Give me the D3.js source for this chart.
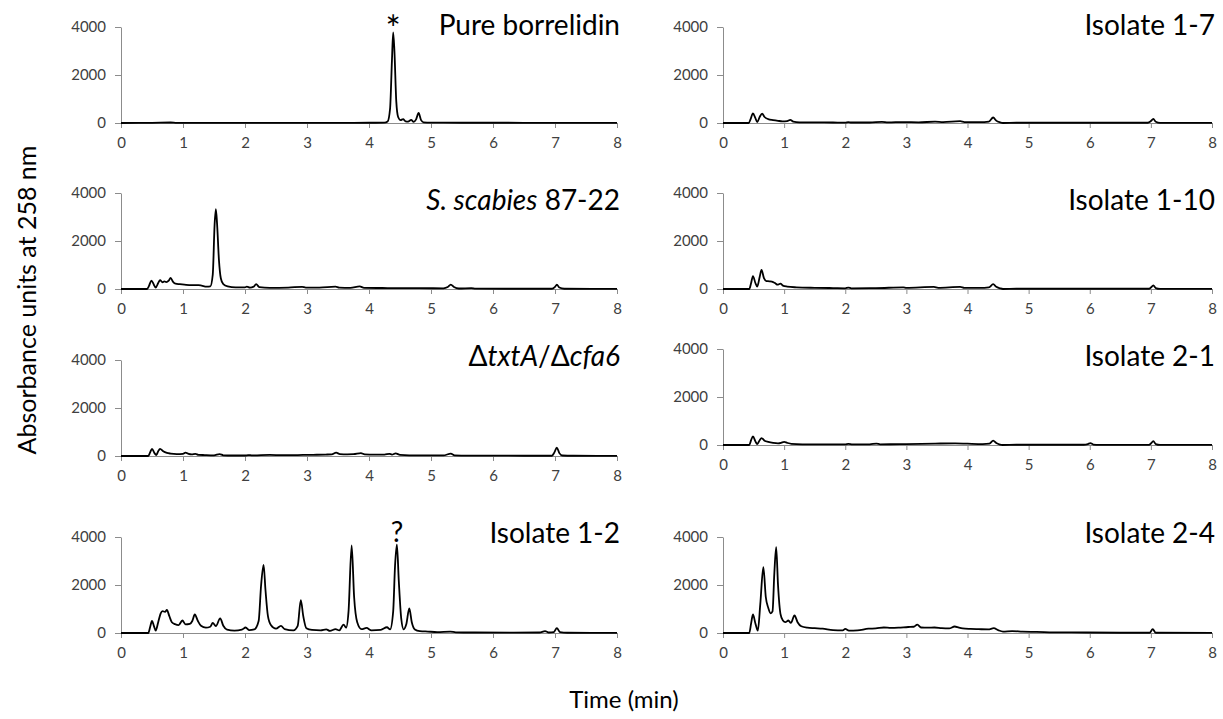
<!DOCTYPE html>
<html>
<head>
<meta charset="utf-8">
<script src="https://cdn.jsdelivr.net/npm/d3@7"></script>
<style>
  body { margin: 0; background: #fff; }
  text { font-family: Lato, "Open Sans", sans-serif; }
</style>
</head>
<body>
<div id="chart"></div>
<script>
// tick values
const timeTicks = [0, 1, 2, 3, 4, 5, 6, 7, 8];
const absTicks = [0, 2000, 4000];

// chromatograms, [time (min), absorbance]
const pureBorrelidin = [[0,0],[0.5,5],[0.8,20],[0.9,5],[1.5,5],[2,5],[3,5],[3.5,8],[4,10],[4.25,15],[4.3,60],[4.34,600],[4.37,2600],[4.39,3780],[4.41,3000],[4.44,900],[4.47,250],[4.51,120],[4.55,160],[4.59,70],[4.63,60],[4.68,130],[4.72,50],[4.76,150],[4.8,420],[4.84,120],[4.88,30],[5,15],[5.5,10],[6,10],[7,8],[8,5]];

const sScabies = [[0,0],[0.42,0],[0.45,120],[0.49,350],[0.53,180],[0.56,60],[0.6,250],[0.63,370],[0.67,280],[0.7,320],[0.73,290],[0.77,350],[0.8,460],[0.84,300],[0.88,220],[0.95,200],[1.05,170],[1.15,160],[1.25,160],[1.3,140],[1.38,100],[1.44,110],[1.48,600],[1.51,2700],[1.53,3330],[1.55,2700],[1.58,1200],[1.61,450],[1.65,200],[1.72,110],[1.85,70],[2.0,70],[2.03,100],[2.08,60],[2.14,100],[2.18,200],[2.23,80],[2.4,50],[2.7,60],[2.92,90],[2.98,60],[3.2,60],[3.46,100],[3.52,60],[3.7,50],[3.85,110],[3.92,50],[4.3,40],[4.8,35],[5.2,30],[5.27,80],[5.32,180],[5.37,80],[5.45,20],[5.65,40],[5.72,15],[6.2,10],[6.95,10],[7.0,90],[7.03,180],[7.07,60],[7.15,10],[8,5]];

const txtAcfa6 = [[0,0],[0.44,0],[0.47,150],[0.5,300],[0.54,120],[0.57,40],[0.6,200],[0.63,300],[0.68,200],[0.74,130],[0.8,100],[0.9,80],[1.0,90],[1.04,140],[1.09,90],[1.14,70],[1.2,90],[1.25,50],[1.35,40],[1.5,30],[1.59,80],[1.65,30],[1.8,20],[2.0,20],[2.05,40],[2.12,25],[2.4,45],[2.6,35],[2.85,40],[3.1,50],[3.3,60],[3.4,70],[3.47,140],[3.53,80],[3.65,70],[3.75,75],[3.87,120],[3.93,70],[4.1,55],[4.25,60],[4.33,90],[4.37,60],[4.43,110],[4.5,45],[4.65,30],[4.9,30],[5.2,25],[5.32,100],[5.38,30],[5.6,15],[6,15],[6.5,10],[6.95,10],[6.99,150],[7.03,350],[7.07,120],[7.12,20],[7.3,10],[8,5]];

const isolate12 = [[0,0],[0.44,0],[0.47,250],[0.5,500],[0.53,300],[0.56,100],[0.6,450],[0.64,820],[0.67,910],[0.71,880],[0.74,960],[0.78,700],[0.82,450],[0.87,370],[0.93,330],[0.99,520],[1.04,360],[1.11,380],[1.15,500],[1.19,770],[1.24,500],[1.29,300],[1.37,220],[1.44,260],[1.48,420],[1.53,290],[1.6,610],[1.65,300],[1.71,140],[1.83,100],[1.95,140],[2.01,230],[2.07,120],[2.15,150],[2.22,500],[2.26,2000],[2.3,2840],[2.33,1800],[2.37,700],[2.42,320],[2.5,180],[2.58,300],[2.64,160],[2.78,110],[2.85,300],[2.9,1370],[2.94,700],[2.99,200],[3.08,130],[3.22,110],[3.31,150],[3.37,90],[3.46,160],[3.52,110],[3.59,350],[3.63,220],[3.67,900],[3.72,3650],[3.76,1500],[3.81,450],[3.88,160],[3.96,210],[4.04,110],[4.19,130],[4.29,240],[4.34,150],[4.39,900],[4.42,2800],[4.45,3680],[4.48,2200],[4.52,600],[4.56,150],[4.6,350],[4.65,1020],[4.69,450],[4.74,150],[4.82,80],[4.95,60],[5.1,40],[5.31,60],[5.4,30],[5.7,20],[6.3,15],[6.75,20],[6.84,80],[6.9,20],[6.98,40],[7.03,200],[7.08,40],[7.2,10],[8,5]];

const isolate17 = [[0,0],[0.42,0],[0.45,150],[0.49,400],[0.53,200],[0.56,40],[0.6,250],[0.64,390],[0.68,250],[0.74,160],[0.82,120],[0.9,90],[0.97,70],[1.05,80],[1.1,130],[1.15,60],[1.25,30],[1.5,25],[1.8,20],[2.0,15],[2.05,40],[2.1,20],[2.4,20],[2.6,45],[2.7,25],[2.95,40],[3.2,30],[3.47,55],[3.6,40],[3.88,75],[3.95,40],[4.2,35],[4.35,60],[4.42,230],[4.47,100],[4.53,30],[4.58,0],[4.8,10],[5.5,10],[6,10],[6.95,10],[7.0,80],[7.04,170],[7.08,50],[7.15,5],[8,5]];

const isolate110 = [[0,0],[0.43,0],[0.46,250],[0.49,540],[0.53,250],[0.56,100],[0.6,500],[0.63,800],[0.67,450],[0.71,330],[0.76,320],[0.82,290],[0.86,230],[0.89,180],[0.94,220],[0.98,140],[1.05,100],[1.2,70],[1.5,50],[1.8,40],[2.0,30],[2.05,60],[2.1,30],[2.5,35],[2.95,70],[3.0,45],[3.45,85],[3.52,50],[3.88,90],[3.95,50],[4.2,45],[4.35,70],[4.42,200],[4.47,90],[4.53,30],[4.58,0],[4.8,10],[5.5,10],[6.5,10],[6.97,10],[7.0,60],[7.04,150],[7.08,40],[7.15,5],[8,5]];

const isolate21 = [[0,0],[0.43,0],[0.46,200],[0.49,360],[0.53,150],[0.56,40],[0.6,200],[0.63,290],[0.68,180],[0.74,130],[0.82,90],[0.9,70],[0.95,90],[1.0,130],[1.05,90],[1.12,50],[1.3,30],[1.6,25],[2.0,25],[2.05,50],[2.12,25],[2.4,30],[2.51,60],[2.57,30],[3.0,40],[3.47,60],[3.8,70],[4.0,55],[4.25,40],[4.36,60],[4.42,180],[4.47,80],[4.53,20],[4.57,0],[4.8,10],[5.5,10],[5.9,10],[5.97,40],[6.01,80],[6.06,20],[6.15,5],[6.97,5],[7.0,60],[7.04,160],[7.08,40],[7.15,5],[8,5]];

const isolate24 = [[0,0],[0.43,0],[0.46,400],[0.49,770],[0.53,400],[0.57,100],[0.61,1200],[0.66,2740],[0.7,1500],[0.74,1050],[0.78,820],[0.81,900],[0.84,2500],[0.87,3580],[0.9,2000],[0.94,800],[0.98,520],[1.02,450],[1.07,520],[1.11,420],[1.17,730],[1.22,450],[1.28,280],[1.38,220],[1.5,200],[1.63,180],[1.8,120],[1.96,110],[2.0,170],[2.06,100],[2.2,110],[2.38,180],[2.5,190],[2.63,230],[2.75,210],[2.87,220],[3.03,250],[3.12,260],[3.18,350],[3.24,230],[3.35,220],[3.46,230],[3.58,200],[3.7,190],[3.79,270],[3.86,220],[3.92,190],[4.05,170],[4.18,160],[4.34,150],[4.43,200],[4.5,120],[4.58,60],[4.73,80],[4.9,60],[5.04,50],[5.34,30],[5.7,25],[5.95,20],[6.5,10],[6.98,10],[7.03,160],[7.08,10],[8,5]];

// panel titles: [text, italic?]
const titleBorrelidin = [["Pure borrelidin", false]];
const titleScabies = [["S. scabies", true], [" 87-22", false]];
const titleMutant = [["\u0394", false], ["txtA", true], ["/\u0394", false], ["cfa6", true]];
const titleIso12 = [["Isolate 1-2", false]];
const titleIso17 = [["Isolate 1-7", false]];
const titleIso110 = [["Isolate 1-10", false]];
const titleIso21 = [["Isolate 2-1", false]];
const titleIso24 = [["Isolate 2-4", false]];

// peak marks: [time, label]
const borrelidinMark = [[4.39, "*"]];
const unknownMark = [[4.45, "?"]];

var width = 1223, height = 719;

var svg = d3.select("#chart").append("svg")
    .attr("width", width)
    .attr("height", height);

// left / right column x ranges
var cols = [[121, 617], [723, 1212]];

// each panel: column, y of 4000, y of 0, title baseline
var panels = [
    {data: pureBorrelidin, title: titleBorrelidin, col: 0, top: 27, bottom: 123, ty: 35, marks: borrelidinMark},
    {data: sScabies, title: titleScabies, col: 0, top: 193, bottom: 289, ty: 210},
    {data: txtAcfa6, title: titleMutant, col: 0, top: 360, bottom: 456, ty: 366},
    {data: isolate12, title: titleIso12, col: 0, top: 537, bottom: 633, ty: 543, marks: unknownMark},
    {data: isolate17, title: titleIso17, col: 1, top: 27, bottom: 123, ty: 35},
    {data: isolate110, title: titleIso110, col: 1, top: 193, bottom: 289, ty: 210},
    {data: isolate21, title: titleIso21, col: 1, top: 349, bottom: 445, ty: 366},
    {data: isolate24, title: titleIso24, col: 1, top: 537, bottom: 633, ty: 543}
];

panels.forEach(function(p) {
    var x = d3.scaleLinear().domain([0, 8]).range(cols[p.col]);
    var y = d3.scaleLinear().domain([0, 4000]).range([p.bottom, p.top]);

    var g = svg.append("g");

    // y axis
    var yAxis = g.append("g")
        .attr("transform", "translate(" + cols[p.col][0] + ",0)")
        .call(d3.axisLeft(y).tickValues(absTicks).tickFormat(d3.format("d"))
            .tickSize(6).tickSizeOuter(0).tickPadding(9));

    // x axis
    var xAxis = g.append("g")
        .attr("transform", "translate(0," + p.bottom + ")")
        .call(d3.axisBottom(x).tickValues(timeTicks).tickFormat(d3.format("d"))
            .tickSize(5).tickSizeOuter(0).tickPadding(9));

    [yAxis, xAxis].forEach(function(a) {
        a.select(".domain").attr("stroke", "#8c8c8c");
        a.selectAll(".tick line").attr("stroke", "#8c8c8c");
        a.selectAll(".tick text")
            .attr("fill", "#404040")
            .style("font-size", "15px")
            .style("font-family", "Lato, 'Open Sans', sans-serif");
    });

    // trace
    var line = d3.line()
        .x(function(d) { return x(d[0]); })
        .y(function(d) { return y(d[1]); })
        .curve(d3.curveMonotoneX);

    g.append("path")
        .datum(p.data)
        .attr("fill", "none")
        .attr("stroke", "#000")
        .attr("stroke-width", 1.8)
        .attr("stroke-linejoin", "round")
        .attr("d", line);

    // title
    var t = g.append("text")
        .attr("x", cols[p.col][1] + 3)
        .attr("y", p.ty)
        .attr("text-anchor", "end")
        .style("font-size", "28px")
        .attr("fill", "#000");
    p.title.forEach(function(seg) {
        t.append("tspan")
            .style("font-style", seg[1] ? "italic" : "normal")
            .text(seg[0]);
    });

    // peak marks
    if (p.marks) {
        p.marks.forEach(function(m) {
            var star = m[1] === "*";
            var peak = d3.max(p.data.filter(function(d) { return Math.abs(d[0] - m[0]) < 0.05; }), function(d) { return d[1]; });
            g.append("text")
                .attr("x", x(m[0]))
                .attr("y", y(peak) + (star ? 10 : -3))
                .attr("text-anchor", "middle")
                .style("font-size", star ? "36px" : "28px")
                .text(m[1]);
        });
    }
});

// axis titles
svg.append("text")
    .attr("transform", "translate(36,300) rotate(-90)")
    .attr("text-anchor", "middle")
    .style("font-size", "25px")
    .text("Absorbance units at 258 nm");

svg.append("text")
    .attr("x", 624)
    .attr("y", 708)
    .attr("text-anchor", "middle")
    .style("font-size", "24px")
    .text("Time (min)");
</script>
</body>
</html>
